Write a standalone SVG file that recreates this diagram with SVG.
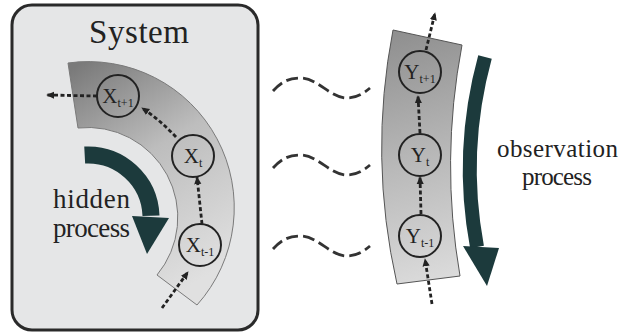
<svg xmlns="http://www.w3.org/2000/svg" width="621" height="333" viewBox="0 0 621 333">
<defs>
<style>
.lbl{font-family:"Liberation Serif","DejaVu Serif",serif;fill:#222;}
.node{fill:none;stroke:#222;stroke-width:2;}
.ntxt{font-family:"Liberation Serif","DejaVu Serif",serif;font-size:21px;fill:#222;text-anchor:middle;}
.sub{font-size:12px;}
.dash{fill:none;stroke:#222;stroke-width:2.8;stroke-dasharray:4 2.5;marker-end:url(#ah);}
.wave{fill:none;stroke:#333;stroke-width:2.8;stroke-dasharray:12 5;}
.thick{fill:none;stroke:#1c3a3c;}
</style>
<marker id="ah" viewBox="0 0 10 10" refX="9" refY="5" markerWidth="8" markerHeight="8" markerUnits="userSpaceOnUse" orient="auto">
<path d="M0,0.5 L10,5 L0,9.5 z" fill="#222"/>
</marker>
<linearGradient id="gx" gradientUnits="userSpaceOnUse" x1="70" y1="70" x2="200" y2="280">
<stop offset="0" stop-color="#7a7a7a"/>
<stop offset="0.45" stop-color="#bdbdbd"/>
<stop offset="1" stop-color="#e0e0e0"/>
</linearGradient>
<linearGradient id="gy" gradientUnits="userSpaceOnUse" x1="390" y1="30" x2="460" y2="285">
<stop offset="0" stop-color="#8e8e8e"/>
<stop offset="0.5" stop-color="#b8b8b8"/>
<stop offset="1" stop-color="#dedede"/>
</linearGradient>
</defs>
<rect width="621" height="333" fill="#fff"/>

<g id="system">
<rect x="12" y="5" width="246" height="325" rx="20" fill="#e5e6e7" stroke="#2a2a2a" stroke-width="3"/>
<text class="lbl" x="139" y="43" font-size="33" text-anchor="middle" textLength="100">System</text>
</g>

<g id="hidden-band">
<path d="M68,63 A146,146 0 0 1 197,305 L157,275 A90,90 0 0 0 78,128 Z" fill="url(#gx)" stroke="#7a7a7a" stroke-width="1"/>
</g>

<g id="observation-band">
<path d="M393,30 L462,45 A650,650 0 0 0 460,276 L397,284 A620,620 0 0 1 393,30 Z" fill="url(#gy)" stroke="#555" stroke-width="1"/>
</g>

<g id="hidden-process-arrow">
<path class="thick" d="M84.7,155.1 A63,63 0 0 1 151,215.8" stroke-width="17"/>
<polygon points="132,216 169,218 147,254" fill="#1c3a3c"/>
<text class="lbl" x="53" y="208" font-size="27" textLength="77">hidden</text>
<text class="lbl" x="53" y="237" font-size="27" textLength="77">process</text>
</g>

<g id="observation-process-arrow">
<path class="thick" d="M485,57 A425,425 0 0 0 477,247" stroke-width="14"/>
<polygon points="463,246 499,248 487,286" fill="#1c3a3c"/>
<text class="lbl" x="497" y="157" font-size="25" textLength="121">observation</text>
<text class="lbl" x="522" y="185" font-size="25" textLength="70">process</text>
</g>

<g id="connectors">
<path class="dash" d="M97,96 L47,95"/>
<path class="dash" d="M176,137 Q160,120 142,108"/>
<path class="dash" d="M202,224 L197,177"/>
<path class="dash" d="M162,308 L188,272"/>
<path class="dash" d="M432,304 L425,259"/>
<path class="dash" d="M421,214 L420,177"/>
<path class="dash" d="M420,133 L418,96"/>
<path class="dash" d="M426,50 L435,13"/>
<g id="waves">
<path class="wave" d="M273,91 C282,81 290,78 300,78 C318,78 330,98 347,98 C357,98 364,93 370,88"/>
<path class="wave" transform="translate(0,77)" d="M273,91 C282,81 290,78 300,78 C318,78 330,98 347,98 C357,98 364,93 370,88"/>
<path class="wave" transform="translate(0,158)" d="M273,91 C282,81 290,78 300,78 C318,78 330,98 347,98 C357,98 364,93 370,88"/>
</g>
</g>

<g id="node-x-t1">
<circle class="node" cx="118" cy="96" r="21"/>
<text class="ntxt" x="118" y="103">X<tspan class="sub" dy="4">t+1</tspan></text>
</g>
<g id="node-x-t">
<circle class="node" cx="193" cy="156" r="21"/>
<text class="ntxt" x="193" y="163">X<tspan class="sub" dy="4">t</tspan></text>
</g>
<g id="node-x-tm1">
<circle class="node" cx="200" cy="245" r="21"/>
<text class="ntxt" x="200" y="252">X<tspan class="sub" dy="4">t-1</tspan></text>
</g>
<g id="node-y-t1">
<circle class="node" cx="420" cy="72" r="21"/>
<text class="ntxt" x="420" y="79">Y<tspan class="sub" dy="4">t+1</tspan></text>
</g>
<g id="node-y-t">
<circle class="node" cx="420" cy="155" r="21"/>
<text class="ntxt" x="420" y="162">Y<tspan class="sub" dy="4">t</tspan></text>
</g>
<g id="node-y-tm1">
<circle class="node" cx="420" cy="236" r="21"/>
<text class="ntxt" x="420" y="243">Y<tspan class="sub" dy="4">t-1</tspan></text>
</g>
</svg>
